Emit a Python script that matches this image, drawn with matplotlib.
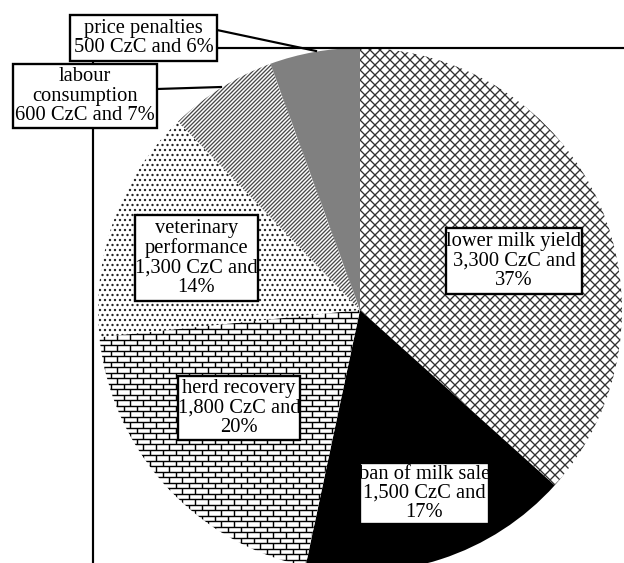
import matplotlib.pyplot as plt
from matplotlib.patches import Rectangle
from matplotlib.collections import LineCollection
import numpy as np

plt.rcParams['font.family'] = ['Liberation Serif', 'DejaVu Serif']
plt.rcParams['hatch.linewidth'] = 0.8

# Cost structure of a mastitis case (CzC per case)
categories = ["lower milk yield", "ban of milk sale", "herd recovery",
              "veterinary\nperformance", "labour\nconsumption", "price penalties"]
costs = [3300, 1500, 1800, 1300, 600, 500]
pct_new_line = [True, True, True, True, False, False]

# fill styles per slice
faces = ["white", "black", "white", "white", "white", "#808080"]
hatches = ["xxxx", None, None, "....", "/" * 10, None]
hatch_cols = ["#303030", "black", "black", "#202020", "#4a4a4a", "#808080"]

# label boxes in pixels (left, top, right, bottom)
boxes = [(446, 228, 582, 294), (360, 463, 489, 524), (178, 376, 300, 440),
         (135, 215, 258, 301), (13, 64, 157, 128), (70, 15, 217, 61)]

W, H, DPI = 624, 563, 120
cx, cy, r = 360, 310, 262


def px(x, y):
    return (x - cx) / r, (cy - y) / r


fig = plt.figure(figsize=(W / DPI, H / DPI), dpi=DPI)
ax = fig.add_axes([0, 0, 1, 1])

wedges, _ = ax.pie(costs, startangle=90, counterclock=False, colors=faces)
for w, hc, ht in zip(wedges, hatch_cols, hatches):
    w.set_edgecolor(hc)
    w.set_linewidth(0)
    if ht:
        w.set_hatch(ht)

# brick pattern for herd recovery
bw, bh = 13 / r, 5.5 / r
segs = []
for k, y in enumerate(np.arange(-1.1, 1.1, bh)):
    segs.append([(-1.1, y), (1.1, y)])
    off = (k % 2) * bw / 2
    for x in np.arange(-1.1 + off, 1.1, bw):
        segs.append([(x, y), (x, y + bh)])
bricks = LineCollection(segs, colors="black", linewidths=0.85, zorder=2)
ax.add_collection(bricks)
bricks.set_clip_path(wedges[2])

total = sum(costs)
for name, val, nl, (l, t, rr, b) in zip(categories, costs, pct_new_line, boxes):
    pct = round(val / total * 100)
    sep = "\n" if nl else " "
    label = f"{name}\n{val:,} CzC and{sep}{pct}%"
    x0, y0 = px(l, b)
    x1, y1 = px(rr, t)
    ax.add_patch(Rectangle((x0, y0), x1 - x0, y1 - y0, facecolor="white",
                           edgecolor="black", linewidth=1.4, zorder=5))
    ax.text((x0 + x1) / 2, (y0 + y1) / 2, label, ha="center", va="center",
            fontsize=12.3, linespacing=1.03, zorder=6)

# leader lines and frame lines
lines = [[(217, 30), (316, 51)], [(217, 48), (624, 48)],
         [(157, 89), (221, 87)], [(93, 61), (93, 563)]]
for seg in lines:
    xs, ys = zip(*[px(*p) for p in seg])
    ax.plot(xs, ys, color="black", linewidth=1.3, zorder=4)

ax.set_xlim(px(0, 0)[0], px(W, 0)[0])
ax.set_ylim(px(0, H)[1], px(0, 0)[1])
ax.set_aspect("auto")
ax.axis("off")

fig.savefig("out.png", dpi=DPI)
